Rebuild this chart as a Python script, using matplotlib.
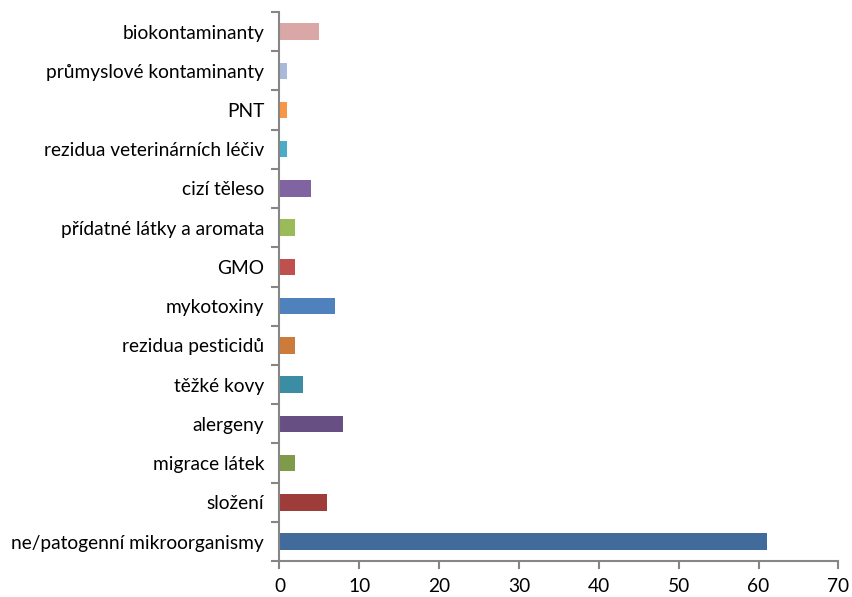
import matplotlib
matplotlib.use('Agg')
import matplotlib.pyplot as plt

categories = ['ne/patogenní mikroorganismy', 'složení', 'migrace látek', 'alergeny',
              'těžké kovy', 'rezidua pesticidů', 'mykotoxiny', 'GMO',
              'přídatné látky a aromata', 'cizí těleso', 'rezidua veterinárních léčiv',
              'PNT', 'průmyslové kontaminanty', 'biokontaminanty']
values = [61, 6, 2, 8, 3, 2, 7, 2, 2, 4, 1, 1, 1, 5]
colors = ['#416B9B', '#9E3C3A', '#7F9A49', '#674F83', '#3B8DA4', '#CD7B3A', '#4F81BD',
          '#C0504D', '#9BBB59', '#8064A2', '#4BACC6', '#F79646', '#A9B9D9', '#D9A7A6']

plt.rcParams['font.family'] = ['Lato', 'DejaVu Sans']

def main():
    fig, ax = plt.subplots(figsize=(8.52, 5.97), dpi=100)
    fig.subplots_adjust(left=0.328, right=0.984, top=0.98, bottom=0.06)

    y = list(range(len(categories)))
    ax.barh(y, values, height=0.42, color=colors)

    ax.set_xlim(0, 70)
    ax.set_ylim(-0.5, len(categories) - 0.5)
    ax.set_xticks(range(0, 71, 10))
    ax.set_yticks(y)
    ax.set_yticklabels(categories)
    ax.set_yticks([i - 0.5 for i in range(len(categories) + 1)], minor=True)

    for s in ['top', 'right']:
        ax.spines[s].set_visible(False)
    for s in ['left', 'bottom']:
        ax.spines[s].set_color('#868686')
        ax.spines[s].set_linewidth(1.5)
    ax.tick_params(axis='y', which='major', length=0, labelsize=13.8, pad=11)
    ax.tick_params(axis='y', which='minor', length=6, width=1.5, color='#868686')
    ax.tick_params(axis='x', length=6, width=1.5, color='#868686', labelsize=13.8, pad=6)

    plt.savefig('out.png')


if __name__ == '__main__':
    main()
